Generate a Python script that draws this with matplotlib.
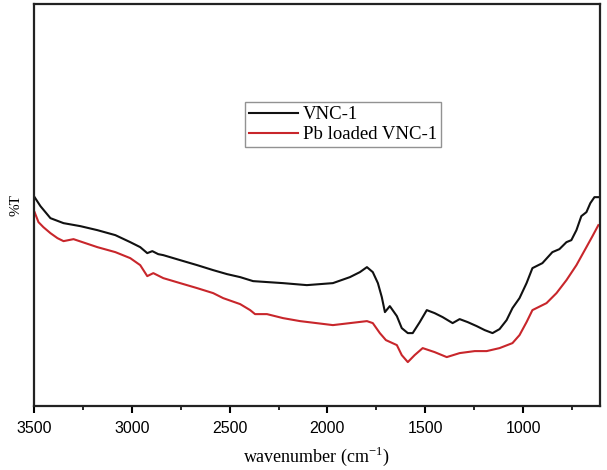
import matplotlib
matplotlib.use("Agg")
import matplotlib.pyplot as plt
import numpy as np

# VNC-1 (black)
wn_black = [3497, 3467, 3416, 3349, 3263, 3176, 3084, 3008, 2957, 2921, 2895, 2865, 2839,
            2753, 2666, 2584, 2513, 2446, 2380, 2304, 2227, 2105, 1972, 1885, 1834, 1798,
            1768, 1742, 1722, 1706, 1681, 1645, 1620, 1589, 1564, 1528, 1492, 1452, 1411,
            1360, 1324, 1283, 1237, 1196, 1156, 1120, 1084, 1054, 1018, 982, 952, 901,
            850, 814, 778, 753, 727, 702, 676, 656, 635, 615]
t_black = [209, 200, 188, 183, 180, 176, 171, 164, 159, 153, 155, 152, 151,
           146, 141, 136, 132, 129, 125, 124, 123, 121, 123, 129, 134, 139,
           134, 123, 109, 94, 100, 90, 78, 73, 73, 84, 96, 93, 89,
           83, 87, 84, 80, 76, 73, 77, 86, 98, 108, 123, 138, 143,
           154, 157, 164, 166, 176, 190, 194, 203, 209, 209]

# Pb loaded VNC-1 (red)
wn_red = [3497, 3477, 3452, 3416, 3380, 3349, 3298, 3237, 3176, 3084, 3008, 2957, 2921,
          2890, 2839, 2753, 2666, 2584, 2533, 2446, 2395, 2370, 2309, 2227, 2140, 1972,
          1885, 1798, 1768, 1732, 1701, 1645, 1620, 1589, 1554, 1513, 1452, 1390, 1324,
          1247, 1186, 1120, 1054, 1018, 982, 952, 880, 829, 778, 727, 676, 645, 615]
t_red = [194, 184, 179, 173, 168, 165, 167, 163, 159, 154, 148, 141, 130,
         133, 128, 123, 118, 113, 108, 102, 96, 92, 92, 88, 85, 81,
         83, 85, 83, 73, 66, 61, 51, 44, 51, 58, 54, 49, 53,
         55, 55, 58, 63, 71, 84, 96, 103, 113, 126, 141, 159, 170, 181]

xticks = [3500, 3000, 2500, 2000, 1500, 1000]

fig = plt.figure(figsize=(6.07, 4.70), dpi=100)
ax = fig.add_axes([0.056, 0.136, 0.932, 0.855])

ax.plot(wn_black, t_black, color="#111111", lw=1.5, label="VNC-1")
ax.plot(wn_red, t_red, color="#c8262b", lw=1.5, label="Pb loaded VNC-1")

ax.set_xlim(3500, 608)
ax.set_ylim(0, 402)
ax.set_xticks(xticks)
ax.set_xticks(np.arange(3250, 600, -500), minor=True)
ax.set_yticks([])
for lab in ax.get_xticklabels():
    lab.set_fontfamily("Liberation Sans")
ax.tick_params(axis="x", which="major", direction="out", length=5, width=1.5,
               labelsize=11.5, pad=6)
ax.tick_params(axis="x", which="minor", direction="out", length=3, width=1.2)
for s in ax.spines.values():
    s.set_linewidth(1.6)
    s.set_color("#222222")

ax.set_xlabel("wavenumber (cm$^{\\mathregular{-1}}$)", family="Liberation Serif",
              fontsize=13, labelpad=6)
ax.set_ylabel("%T", family="Liberation Serif", fontsize=11, labelpad=8)

leg = ax.legend(loc="upper left", bbox_to_anchor=(0.373, 0.756), fancybox=False,
                prop={"family": "Liberation Serif", "size": 13.5}, handlelength=2.6,
                borderpad=0.2, labelspacing=0.15, handletextpad=0.3, borderaxespad=0)
leg.get_frame().set_edgecolor("#777777")
leg.get_frame().set_linewidth(1.0)

fig.savefig("out.png", dpi=100)
